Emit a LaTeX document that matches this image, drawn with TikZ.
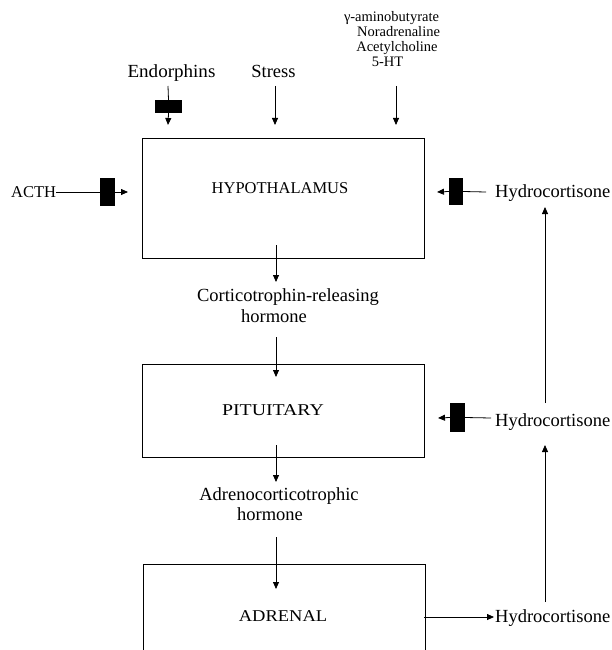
\documentclass[tikz,border=0pt]{standalone}
\usepackage{fontspec}
\setmainfont{Liberation Serif}
\usetikzlibrary{arrows.meta}
\tikzset{
  lbl/.style={font=\fontsize{18.5}{21}\selectfont, inner sep=0pt, anchor=mid},
  caplbl/.style={font=\fontsize{16.5}{19}\selectfont, inner sep=0pt, anchor=mid},
  small/.style={font=\fontsize{14.5}{15}\selectfont, inner sep=0pt, anchor=mid},
  organ/.style={draw, line width=0.9pt, inner sep=0pt, minimum width=282pt},
  blocker/.style={fill=black, inner sep=0pt},
  link/.style={line width=0.8pt},
  arr/.style={line width=0.8pt, -{Triangle[length=7pt,width=6pt]}},
}
\begin{document}
\begin{tikzpicture}[x=1pt,y=-1pt]
\clip (0,0) rectangle (612,650);
\fill[white] (0,0) rectangle (612,650);

% organ boxes
\node[organ, minimum height=120pt] (hypo) at (283,198) {};
\node[organ, minimum height=93pt] (pit) at (283,410.5) {};
\node[organ, minimum height=120pt] (adr) at (284,624) {};

\node[caplbl] (thypo) at (280,191) {HYPOTHALAMUS};
\node[caplbl] (tpit) at (273,413) {\scalebox{1.2}[1]{PITUITARY}};
\node[caplbl] (tadr) at (283,619) {\scalebox{1.12}[1]{ADRENAL}};

% inputs above the hypothalamus
\node[lbl] (endo) at (171.5,75) {\scalebox{1.03}[1]{Endorphins}};
\node[lbl] (stress) at (273.5,75) {Stress};
\node[small] (gaba) at (391.5,19) {γ-aminobutyrate};
\node[small] (nor) at (398.5,34) {Noradrenaline};
\node[small] (ach) at (397,49) {Acetylcholine};
\node[small] (sht) at (387.5,64) {5-HT};

\node[blocker, minimum width=27pt, minimum height=13pt] (eblk) at (168.5,106.5) {};
\coordinate (e0) at (168,86);
\coordinate (e1) at (168,125);
\draw[link] (e0) -- (eblk.north);
\draw[arr] (eblk.south) -- (e1);

\coordinate (s0) at (275,86);
\coordinate (s1) at (275,125);
\draw[arr] (s0) -- (s1);

\coordinate (n0) at (396,86);
\coordinate (n1) at (396,125);
\draw[arr] (n0) -- (n1);

% ACTH on the left
\node[caplbl, anchor=west] (acth) at (11,192) {ACTH};
\node[blocker, minimum width=15pt, minimum height=28pt] (ablk) at (107.5,192) {};
\coordinate (a1) at (128,192);
\draw[link] (acth.east) -- (ablk.west);
\draw[arr] (ablk.east) -- (a1);

% central cascade
\node[lbl] (crh1) at (288,299) {Corticotrophin-releasing};
\node[lbl] (crh2) at (274,320) {hormone};
\node[lbl] (acth1) at (279,498) {Adrenocorticotrophic};
\node[lbl] (acth2) at (270,518) {hormone};

\coordinate (c0) at (276,245);
\coordinate (c1) at (276,282);
\coordinate (c2) at (276,337);
\coordinate (c3) at (276,377);
\coordinate (c4) at (276,445);
\coordinate (c5) at (276,482);
\coordinate (c6) at (276,537);
\coordinate (c7) at (276,589);
\draw[arr] (c0) -- (c1);
\draw[arr] (c2) -- (c3);
\draw[arr] (c4) -- (c5);
\draw[arr] (c6) -- (c7);

% hydrocortisone feedback on the right
\node[lbl, anchor=west] (hc1) at (495,193) {Hydrocortisone};
\node[lbl, anchor=west] (hc2) at (495,422) {Hydrocortisone};
\node[lbl, anchor=west] (hc3) at (495,618) {Hydrocortisone};

\node[blocker, minimum width=14pt, minimum height=27pt] (hblk1) at (456,191.5) {};
\node[blocker, minimum width=15pt, minimum height=29pt] (hblk2) at (457.5,417.5) {};

\coordinate (h1a) at (486,192);
\coordinate (h1b) at (437,192);
\draw[link] (h1a) -- (hblk1.east);
\draw[arr] (hblk1.west) -- (h1b);

\coordinate (h2a) at (491,418);
\coordinate (h2b) at (438,418);
\draw[link] (h2a) -- (hblk2.east);
\draw[arr] (hblk2.west) -- (h2b);

\coordinate (h3a) at (424,617);
\coordinate (h3b) at (494,617);
\draw[arr] (h3a) -- (h3b);

\coordinate (v0) at (545,602);
\coordinate (v1) at (545,445);
\coordinate (v2) at (545,403);
\coordinate (v3) at (545,207);
\draw[arr] (v0) -- (v1);
\draw[arr] (v2) -- (v3);
\end{tikzpicture}
\end{document}
